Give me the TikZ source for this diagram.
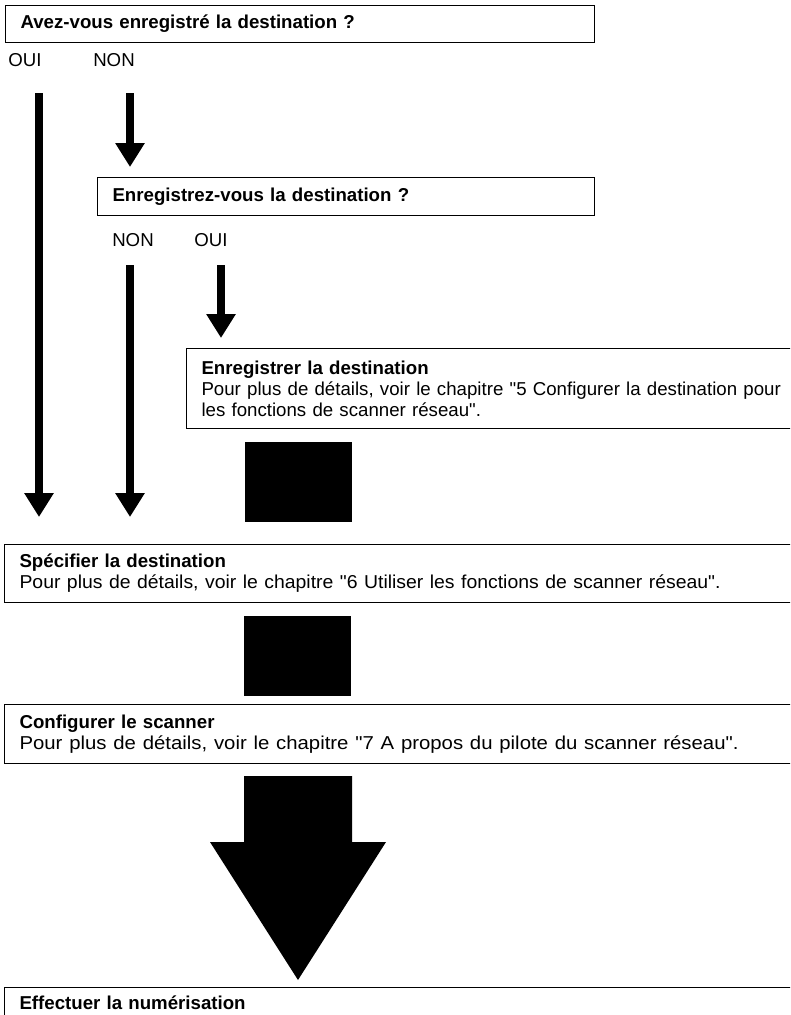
\documentclass[tikz,border=0pt]{standalone}
\usepackage{fontspec}
\setmainfont{Liberation Sans}
\usetikzlibrary{arrows.meta}
\tikzset{
  qbox/.style={draw,line width=.8pt,anchor=north west,inner xsep=11.25pt,inner ysep=0pt,align=left,font=\fontsize{14}{15.75}\selectfont},
  answer/.style={anchor=west,inner sep=0pt,font=\fontsize{14}{15.75}\selectfont},
  flow/.style={line width=6pt,-{Triangle[width=21pt,length=18pt]}},
  block/.style={fill=black},
}
\newcommand{\dq}{\textquotedbl}
\begin{document}
\begin{tikzpicture}[x=.75pt,y=-.75pt]
\useasboundingbox (0,0) rectangle (790,1015);
\clip (0,0) rectangle (790,1015);
% questions
\node[qbox,text width=419.25pt,minimum height=27.75pt] (q1) at (5,5) {\textbf{Avez-vous enregistré la destination ?}};
\node[answer] (oui1) at (8,60) {OUI};
\node[answer] (non1) at (93,60) {NON};
\node[qbox,text width=350.25pt,minimum height=28.5pt] (q2) at (97,177) {\textbf{Enregistrez-vous la destination ?}};
\node[answer] (non2) at (112,240) {NON};
\node[answer] (oui2) at (194,240) {OUI};
% steps
\node[qbox,text width=580pt,minimum height=60pt] (reg) at (186,348) {\textbf{Enregistrer la destination}\\
Pour plus de détails, voir le chapitre \dq5 Configurer la destination pour\\
les fonctions de scanner réseau\dq.};
\node[qbox,text width=580pt,minimum height=43.5pt] (spec) at (4,544) {\textbf{Spécifier la destination}\\
\scalebox{1.04}[1]{Pour plus de détails, voir le chapitre \dq6 Utiliser les fonctions de scanner réseau\dq.}};
\node[qbox,text width=580pt,minimum height=44.25pt] (conf) at (4,704) {\textbf{Configurer le scanner}\\
\scalebox{1.09}[1]{Pour plus de détails, voir le chapitre \dq7 A propos du pilote du scanner réseau\dq.}};
\node[qbox,text width=580pt,minimum height=22.5pt] (scan) at (4,987) {\textbf{Effectuer la numérisation}};
% arrows
\coordinate (s1) at (39,93);
\coordinate (s2) at (130,93);
\coordinate (s3) at (130,265);
\coordinate (s4) at (221,265);
\draw[flow,shorten >=20.25pt] (s1) -- (s1 |- spec.north);
\draw[flow,shorten >=7.5pt] (s2) -- (s2 |- q2.north);
\draw[flow,shorten >=20.25pt] (s3) -- (s3 |- spec.north);
\draw[flow,shorten >=7.5pt] (s4) -- (s4 |- reg.north);
\fill[block] (245,442) rectangle (352,522);
\fill[block] (244,616) rectangle (351,696);
\fill[block] (244,776) -- (352,776) -- (352,842) -- (386,842) -- (298,980) -- (210,842) -- (244,842) -- cycle;
\end{tikzpicture}
\end{document}
